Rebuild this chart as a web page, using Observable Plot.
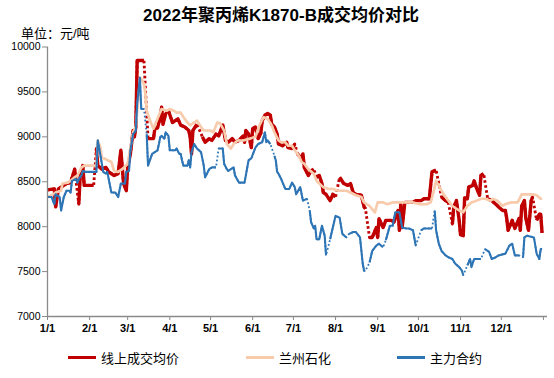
<!DOCTYPE html>
<html><head><meta charset="utf-8">
<script src="https://cdn.jsdelivr.net/npm/d3@7"></script>
<script src="https://cdn.jsdelivr.net/npm/@observablehq/plot@0.6"></script>
<style>
body{margin:0;background:#fff;font-family:"Liberation Sans","Noto Sans CJK SC",sans-serif;}
#wrap{position:relative;width:554px;height:378px;overflow:hidden;background:#fff;}
#chart{position:absolute;left:0;top:0;}
#title{position:absolute;left:4px;width:554px;top:5px;text-align:center;font-size:17px;line-height:22px;font-weight:bold;color:#000;}
#unit{position:absolute;left:21px;top:27px;font-size:13px;line-height:13px;color:#000;}
#legend{position:absolute;left:0;top:348px;width:554px;height:18px;font-size:13px;color:#000;}
.item{position:absolute;top:0;display:flex;align-items:center;height:18px;}
.sw{width:28px;height:3px;margin-right:5px;}
</style></head>
<body>
<div id="wrap">
  <div id="chart"></div>
  <div id="title">2022年聚丙烯K1870-B成交均价对比</div>
  <div id="unit">单位：元/吨</div>
  <div id="legend"></div>
</div>
<script>
const seriesNames = ["线上成交均价", "兰州石化", "主力合约"];
const seriesColors = ["#C00000", "#F8CBAD", "#2E75B6"];
const yTicks = [7000, 7500, 8000, 8500, 9000, 9500, 10000];
const monthTicks = ["1-1","2-1","3-1","4-1","5-1","6-1","7-1","8-1","9-1","10-1","11-1","12-1"];

const online = [["1-1",8410],["1-6",8420],["1-7",8220],["1-9",8420],["1-11",8440],["1-15",8480],["1-18",8490],["1-21",8640],["1-22",8510],["1-23",null],["1-24",8250],["1-25",8550],["1-27",8680],["1-28",8460],["2-4",8460],["2-5",null],["2-6",8870],["2-7",8680],["2-10",8640],["2-13",8660],["2-15",8610],["2-19",8570],["2-22",8590],["2-24",8850],["2-26",8480],["2-28",8400],["3-1",8660],["3-3",8810],["3-5",9070],["3-6",9000],["3-7",9110],["3-8",9850],["3-13",9850],["3-14",null],["3-16",8980],["3-20",8980],["3-21",9090],["3-23",9100],["3-25",9220],["3-26",9330],["3-27",9140],["3-29",9260],["3-30",null],["3-31",9290],["4-3",9160],["4-5",9180],["4-7",9200],["4-9",9130],["4-12",9110],["4-15",9070],["4-16",9000],["4-17",8810],["4-18",9070],["4-21",9140],["4-22",null],["4-25",9000],["4-27",8940],["4-30",8980],["5-2",8960],["5-5",9030],["5-7",9010],["5-10",9130],["5-12",8960],["5-14",8940],["5-17",8980],["5-19",8940],["5-22",8960],["5-25",9010],["5-26",8940],["5-27",9070],["5-29",9030],["5-31",8880],["6-1",9090],["6-3",9110],["6-4",9040],["6-5",8980],["6-7",9040],["6-8",9180],["6-10",9240],["6-12",9260],["6-14",9240],["6-15",9140],["6-17",9110],["6-19",9030],["6-20",8920],["6-23",8900],["6-26",8940],["6-27",8880],["6-30",8870],["7-2",8920],["7-3",null],["7-4",8810],["7-7",8760],["7-8",8810],["7-9",8660],["7-12",8570],["7-14",8620],["7-16",8640],["7-17",null],["7-18",8550],["7-20",8570],["7-22",8480],["7-23",8380],["7-25",8360],["7-28",8290],["7-30",8360],["8-1",8330],["8-2",null],["8-4",8550],["8-7",8480],["8-10",8460],["8-12",8480],["8-14",8380],["8-16",8360],["8-20",8350],["8-22",8220],["8-23",8200],["8-24",null],["8-26",7880],["8-28",7880],["8-31",7990],["9-1",7880],["9-2",8090],["9-5",7990],["9-7",8070],["9-11",8070],["9-13",8050],["9-16",8180],["9-17",7960],["9-18",8250],["9-19",7990],["9-21",8270],["9-27",8270],["9-29",8290],["10-3",8290],["10-5",8310],["10-9",8310],["10-11",8610],["10-14",8630],["10-15",null],["10-18",8330],["10-21",8290],["10-23",8270],["10-24",null],["10-26",8030],["10-27",8220],["10-29",8290],["10-31",8070],["11-1",7910],["11-3",7900],["11-4",8320],["11-6",8310],["11-7",8440],["11-10",8460],["11-11",8510],["11-13",8420],["11-15",8350],["11-16",8570],["11-18",8590],["11-19",null],["11-21",8310],["11-24",8290],["11-27",8250],["11-29",8220],["12-2",8180],["12-4",8180],["12-5",8090],["12-6",7960],["12-9",8070],["12-11",7980],["12-14",8090],["12-15",7960],["12-16",8230],["12-18",8290],["12-19",8100],["12-21",7960],["12-23",8290],["12-24",8330],["12-25",null],["12-27",8070],["12-29",8140],["12-30",8140],["12-31",7930]];

const lanzhou = [["1-1",8330],["1-4",8350],["1-7",8380],["1-11",8400],["1-12",8480],["1-16",8490],["1-18",8510],["1-21",8550],["1-23",8570],["1-26",8660],["1-28",8680],["2-6",8680],["2-7",8960],["2-9",8880],["2-10",8770],["2-13",8750],["2-17",8720],["2-19",8620],["2-22",8610],["2-25",8640],["3-1",8700],["3-5",9050],["3-7",9110],["3-10",9630],["3-11",9650],["3-13",9590],["3-14",9480],["3-15",9290],["3-18",9160],["3-20",9090],["3-24",9240],["3-26",9310],["3-30",9290],["4-1",9310],["4-4",9290],["4-6",9270],["4-9",9270],["4-11",9220],["4-14",9160],["4-16",9130],["4-19",9160],["4-21",9180],["4-24",9110],["4-26",9070],["5-1",9070],["5-3",9050],["5-6",9160],["5-8",9150],["5-11",9070],["5-13",8920],["5-16",8870],["5-18",8920],["5-21",8960],["5-25",8960],["5-30",8980],["6-3",9000],["6-6",9130],["6-9",9220],["6-12",9200],["6-15",9130],["6-17",9050],["6-20",8960],["6-22",8940],["6-25",8940],["6-27",8900],["6-30",8900],["7-2",8850],["7-5",8790],["7-7",8720],["7-9",8700],["7-12",8640],["7-16",8590],["7-18",8510],["7-20",8480],["7-23",8440],["7-27",8420],["7-30",8420],["8-3",8400],["8-9",8400],["8-12",8380],["8-16",8350],["8-20",8330],["8-22",8270],["8-26",8230],["8-30",8160],["9-1",8270],["9-5",8270],["9-8",8250],["9-12",8270],["9-22",8270],["9-27",8270],["10-2",8250],["10-7",8250],["10-10",8270],["10-12",8380],["10-14",8510],["10-18",8400],["10-21",8330],["10-26",8230],["10-31",8180],["11-3",8160],["11-6",8230],["11-9",8270],["11-13",8290],["11-16",8310],["11-19",8310],["11-23",8290],["11-25",8310],["11-28",8290],["12-2",8230],["12-4",8250],["12-8",8270],["12-13",8270],["12-16",8360],["12-24",8360],["12-27",8350],["12-30",8310],["12-31",8310]];

const futures = [["1-1",8330],["1-4",8330],["1-6",8250],["1-7",8360],["1-10",8330],["1-11",8180],["1-13",8330],["1-15",8400],["1-17",8400],["1-18",8380],["1-19",8510],["1-22",8530],["1-23",8490],["1-24",8530],["1-26",8570],["1-27",8620],["1-29",8610],["2-6",8610],["2-7",8960],["2-9",8790],["2-11",8610],["2-13",8590],["2-14",8610],["2-17",8380],["2-20",8380],["2-22",8330],["2-24",8480],["2-27",8480],["2-28",8610],["3-2",8620],["3-3",8850],["3-5",9030],["3-7",9070],["3-8",9370],["3-10",9660],["3-11",9310],["3-13",9310],["3-14",null],["3-15",9030],["3-16",8680],["3-19",8810],["3-21",8830],["3-23",8850],["3-24",8920],["3-25",9000],["3-26",9010],["3-28",8980],["3-29",9050],["3-31",9010],["4-1",8850],["4-5",8850],["4-6",8870],["4-8",8810],["4-9",8810],["4-10",8740],["4-11",8680],["4-14",8680],["4-15",8740],["4-16",8660],["4-17",8830],["4-19",8920],["4-21",8870],["4-24",8830],["4-26",8680],["4-27",8550],["4-30",8640],["5-2",8660],["5-5",8660],["5-6",null],["5-7",8870],["5-10",8870],["5-11",8700],["5-13",8640],["5-14",8620],["5-16",8640],["5-18",8660],["5-19",8570],["5-22",8490],["5-26",8490],["5-29",8740],["5-31",8760],["6-3",8880],["6-5",8920],["6-8",8940],["6-10",9050],["6-11",8940],["6-12",8960],["6-14",8920],["6-15",null],["6-17",8790],["6-18",8740],["6-19",8610],["6-20",8590],["6-22",8530],["6-25",8420],["6-28",8420],["6-30",8490],["7-2",8440],["7-3",8360],["7-6",8440],["7-8",8290],["7-11",8310],["7-12",null],["7-13",8180],["7-14",8050],["7-16",7980],["7-17",8010],["7-18",7860],["7-20",7860],["7-22",8010],["7-24",7900],["7-25",7680],["7-26",null],["7-28",7860],["7-30",7990],["8-1",8120],["8-4",8100],["8-6",7920],["8-9",7880],["8-10",null],["8-11",7920],["8-14",7940],["8-16",7940],["8-19",7880],["8-21",7590],["8-22",7510],["8-23",7510],["8-24",null],["8-26",7600],["8-28",7730],["8-31",7790],["9-2",7810],["9-5",7770],["9-6",null],["9-7",7850],["9-10",8010],["9-12",8010],["9-14",8160],["9-17",8160],["9-19",7990],["9-22",7980],["9-24",7980],["9-27",7960],["9-29",7790],["9-30",null],["10-3",7960],["10-5",7980],["10-11",7980],["10-12",null],["10-13",8180],["10-14",7960],["10-16",7810],["10-18",7730],["10-21",7680],["10-23",7660],["10-26",7640],["10-28",7590],["10-31",7550],["11-2",7510],["11-3",7460],["11-4",null],["11-6",7570],["11-8",7640],["11-9",7550],["11-11",7640],["11-16",7640],["11-17",null],["11-19",7750],["11-22",7720],["11-24",7640],["11-27",7660],["11-29",7680],["12-4",7700],["12-7",7790],["12-9",7810],["12-11",7680],["12-14",7680],["12-15",null],["12-17",7660],["12-18",7880],["12-20",7900],["12-25",7880],["12-27",7700],["12-29",7640],["12-30",7750],["12-31",7750]];

const parse = (s, year = 2022) => { const [m, d] = s.split("-").map(Number); return new Date(year, m - 1, d); };
const toRows = arr => arr.map(([d, v]) => ({date: parse(d), value: v}));
const rows = [toRows(online), toRows(lanzhou), toRows(futures)];
const widths = [3.4, 2.6, 2.1];
const dashes = ["2.6,2.4", "2,2", "1.8,2.2"];

const tickDates = monthTicks.map(s => parse(s)).concat([new Date(2023, 0, 1)]);
const axisColor = "#8a8a8a";

const lineMarks = [];
rows.forEach((r, i) => {
  lineMarks.push(Plot.line(r.filter(d => d.value != null), {x: "date", y: "value", stroke: seriesColors[i], strokeWidth: widths[i] * 0.85, strokeDasharray: dashes[i], strokeLinecap: "butt"}));
  lineMarks.push(Plot.line(r, {x: "date", y: "value", stroke: seriesColors[i], strokeWidth: widths[i], strokeLinejoin: "round", strokeLinecap: "butt"}));
});

const chart = Plot.plot({
  width: 554, height: 340,
  marginLeft: 47, marginRight: 7, marginTop: 46.5, marginBottom: 24,
  style: {fontFamily: "Liberation Sans, Noto Sans CJK SC, sans-serif", background: "transparent"},
  x: {type: "time", domain: [new Date(2022, 0, 1), new Date(2023, 0, 4)]},
  y: {domain: [7000, 10000]},
  marks: [
    ...lineMarks,
    Plot.ruleY([7000], {stroke: axisColor, strokeWidth: 1.3}),
    Plot.ruleX([new Date(2022, 0, 1)], {y1: 7000, y2: 10000, stroke: axisColor, strokeWidth: 1.3}),
    Plot.axisY({ticks: yTicks, tickSize: 5, tickPadding: 2, stroke: axisColor, fontSize: 10.5, color: "#000", label: null, tickFormat: d => String(d)}),
    Plot.axisX({ticks: tickDates, tickSize: 4, tickPadding: 4, stroke: axisColor, fontSize: 11, fontWeight: "bold", label: null,
      tickFormat: d => d.getFullYear() === 2022 ? `${d.getMonth() + 1}/1` : ""})
  ]
});
document.getElementById("chart").appendChild(chart);

const legendX = [68, 246, 397];
const legend = document.getElementById("legend");
seriesNames.forEach((name, i) => {
  const it = document.createElement("div");
  it.className = "item";
  it.style.left = legendX[i] + "px";
  it.innerHTML = `<div class="sw" style="background:${seriesColors[i]}"></div><span>${name}</span>`;
  legend.appendChild(it);
});
</script>
</body></html>
